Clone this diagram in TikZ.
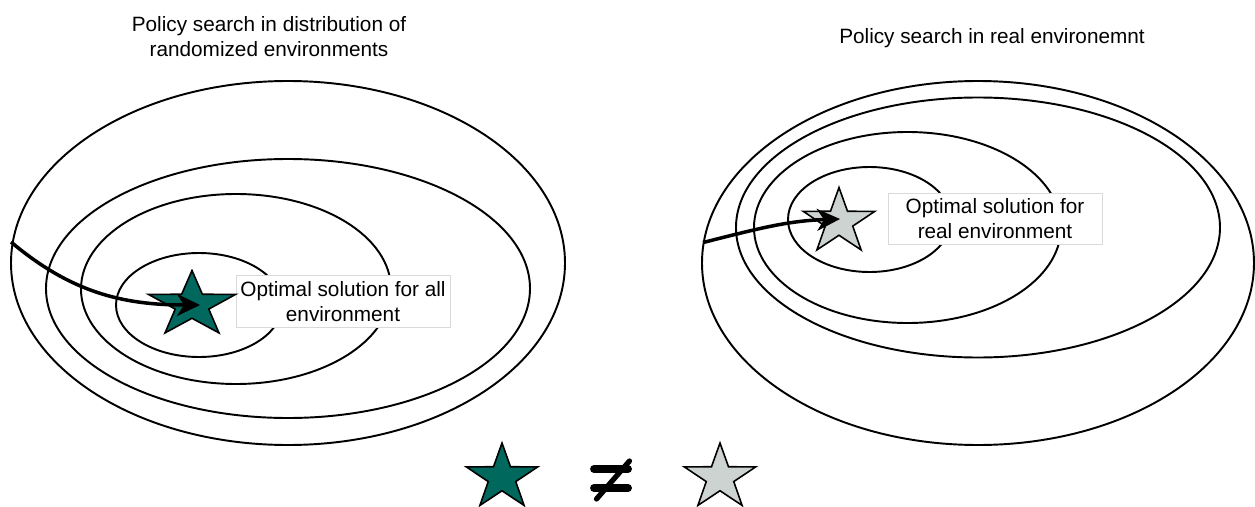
\documentclass[tikz,border=0pt]{standalone}
\usepackage{fontspec}
\setmainfont{Liberation Sans}
\usetikzlibrary{positioning,shapes.geometric,arrows.meta}
\definecolor{simteal}{RGB}{0,104,92}
\definecolor{realgray}{RGB}{204,211,209}

\begin{document}
\begin{tikzpicture}[
  contour/.style={draw,line width=1.1pt},
  optstar/.style={star,star points=5,star point ratio=2.6,draw,line width=0.9pt,inner sep=0pt,minimum size=1.38cm},
  simstar/.style={optstar,fill=simteal},
  realstar/.style={optstar,fill=realgray},
  labelbox/.style={draw=black!15,fill=white,minimum width=4.28cm,minimum height=1.03cm,inner sep=0pt},
  searchpath/.style={line width=2pt,-{Stealth[length=4.6mm,width=4.4mm,inset=1.4mm]}},
  neqbar/.style={line width=4.5pt,line cap=round},
  every node/.append style={align=center,font=\fontsize{11.8}{14.2}\selectfont}
]
  \useasboundingbox (0,0) rectangle (25.1,10.12);

  \node (simtitle) at (5.38,9.38) {Policy search in distribution of\\randomized environments};
  \node[anchor=base] (realtitle) at (19.84,9.24) {Policy search in real environemnt};

  \draw[contour] (5.76,4.86) ellipse (5.54 and 3.64);
  \draw[contour] (5.76,4.35) ellipse (4.84 and 2.59);
  \draw[contour] (4.72,4.34) ellipse (3.10 and 1.90);
  \draw[contour] (3.98,4.02) ellipse (1.66 and 1.04);

  \draw[contour] (19.56,4.86) ellipse (5.52 and 3.64);
  \draw[contour] (19.56,5.57) ellipse (4.84 and 2.60);
  \draw[contour] (18.15,5.57) ellipse (3.07 and 1.91);
  \draw[contour] (17.39,5.73) ellipse (1.63 and 1.05);

  \node[labelbox] (simlabel) at (6.86,4.09) {Optimal solution for all\\environment};
  \node[labelbox] (reallabel) at (19.90,5.74) {Optimal solution for\\real environment};

  \node[simstar,xscale=1.33] (simopt) at (3.84,4.02) {};
  \node[realstar,xscale=1.09] (realopt) at (16.78,5.68) {};

  \coordinate (simstart) at (0.22,5.28);
  \coordinate (realstart) at (14.06,5.27);
  \draw[searchpath] (simstart) to[out=-40,in=180] ([xshift=1.6mm]simopt.center);
  \draw[searchpath] (realstart) to[out=14,in=182] ([xshift=0.2mm,yshift=0.6mm]realopt.center);

  \node[simstar,xscale=1.09] (simkey) at (10.04,0.57) {};
  \node[realstar,xscale=1.09] (realkey) at (14.40,0.57) {};
  \coordinate (neq) at (12.24,0.55);
  \draw[neqbar] ([xshift=-3.6mm,yshift=1.9mm]neq) -- ([xshift=3.2mm,yshift=1.9mm]neq);
  \draw[neqbar] ([xshift=-3.6mm,yshift=-1.9mm]neq) -- ([xshift=3.2mm,yshift=-1.9mm]neq);
  \draw[line width=3pt,line cap=round] ([xshift=-3.1mm,yshift=-4.1mm]neq) -- ([xshift=3.5mm,yshift=3.5mm]neq);
\end{tikzpicture}
\end{document}
